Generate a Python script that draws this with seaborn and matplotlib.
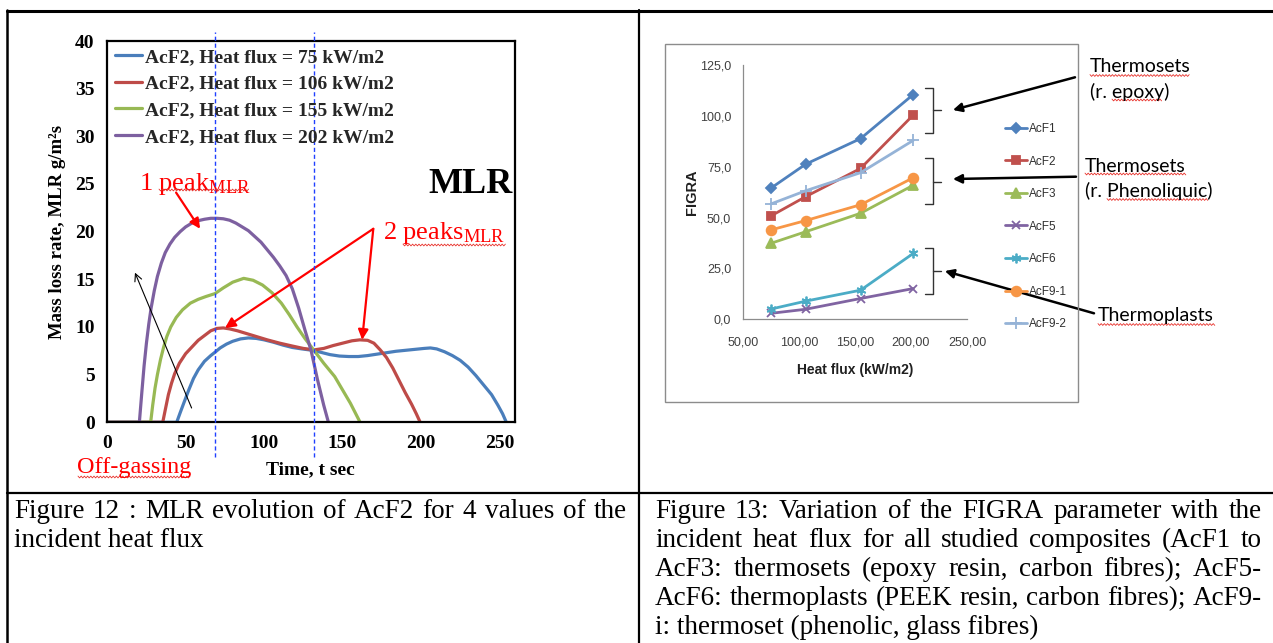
import numpy as np
import pandas as pd
import matplotlib
matplotlib.use("Agg")
import matplotlib.pyplot as plt
import seaborn as sns
from matplotlib.lines import Line2D
from matplotlib.patches import Rectangle

# ---------------- Figure 12 data: MLR of AcF2 (g/m2 s) vs time (s) ----------------
mlr_labels = ["AcF2, Heat flux = 75 kW/m2", "AcF2, Heat flux = 106 kW/m2",
              "AcF2, Heat flux = 155 kW/m2", "AcF2, Heat flux = 202 kW/m2"]
mlr_colors = ["#4a7ebb", "#be4b48", "#98b954", "#7d60a0"]

t_75 = [0, 44.3, 46.5, 49, 52, 55, 58, 62, 66, 68.7, 72, 76, 80, 85, 90, 95, 100, 106, 112,
        118, 124, 131, 136, 142, 148, 154, 160, 166, 172, 178, 184, 190, 196, 202, 206, 210,
        215, 220, 225, 230, 235, 240, 245, 249, 252, 254.4]
mlr_75 = [0, 0, 1.0, 2.1, 3.4, 4.6, 5.5, 6.4, 7.0, 7.35, 7.8, 8.2, 8.5, 8.75, 8.85, 8.8, 8.65,
          8.4, 8.1, 7.85, 7.7, 7.55, 7.35, 7.1, 6.95, 6.9, 6.9, 7.0, 7.15, 7.3, 7.45, 7.55, 7.65,
          7.75, 7.8, 7.7, 7.4, 7.0, 6.5, 5.8, 4.9, 3.9, 2.9, 1.8, 0.9, 0]

t_106 = [0, 35.4, 37, 39, 41, 43, 46, 50, 54, 58, 62, 66, 70, 74, 78, 83, 88, 95, 102, 110,
         118, 125, 132, 138, 144, 150, 156, 161, 166, 170, 174, 178, 182, 186, 190, 194, 197,
         199.5]
mlr_106 = [0, 0, 1.3, 2.9, 4.1, 5.1, 6.2, 7.2, 7.9, 8.6, 9.1, 9.6, 9.85, 9.9, 9.8, 9.6, 9.35,
           9.0, 8.65, 8.3, 8.0, 7.75, 7.6, 7.75, 8.05, 8.3, 8.55, 8.65, 8.6, 8.3, 7.6, 6.8, 5.7,
           4.4, 3.1, 1.9, 0.9, 0]

t_155 = [0, 27.7, 29, 30.5, 32, 34, 36, 38, 40.5, 44, 48, 53, 58, 63, 68.7, 74, 80, 87, 93,
         99, 105, 111, 116, 121, 126, 132, 138, 145, 150, 155, 161.2]
mlr_155 = [0, 0, 1.8, 3.6, 5.0, 6.6, 7.9, 9.0, 10.0, 11.0, 11.8, 12.5, 12.9, 13.2, 13.5, 14.1,
           14.7, 15.1, 14.9, 14.4, 13.6, 12.5, 11.3, 10.0, 8.8, 7.5, 6.2, 4.8, 3.4, 2.0, 0]

t_202 = [0, 20.5, 22, 23.5, 25, 26.5, 28, 30, 32, 34.5, 37, 40, 43, 46.5, 50, 54, 58, 62, 66,
         70, 74, 78, 82, 86, 90, 94, 98, 102, 106, 110, 114, 118, 122, 126, 130, 134, 138, 141]
mlr_202 = [0, 0, 3.0, 5.9, 8.3, 10.3, 12.0, 13.8, 15.3, 16.7, 17.8, 18.7, 19.4, 20.0, 20.5,
           20.9, 21.15, 21.3, 21.4, 21.4, 21.35, 21.2, 20.9, 20.5, 20.1, 19.5, 18.9, 18.1, 17.3,
           16.4, 15.4, 14.0, 12.0, 9.7, 7.5, 4.5, 1.8, 0]

marker_times = [68.7, 132.1]          # dashed vertical guide lines (s)

# ---------------- Figure 13 data: FIGRA vs heat flux ----------------
heat_flux = [75, 106, 155, 202]
figra_labels = ["AcF1", "AcF2", "AcF3", "AcF5", "AcF6", "AcF9-1", "AcF9-2"]
figra_acf1 = [64.5, 76.3, 88.9, 110.6]
figra_acf2 = [50.8, 60.3, 74.2, 100.5]
figra_acf3 = [37.3, 43.0, 52.1, 65.9]
figra_acf5 = [2.8, 4.8, 10.1, 15.0]
figra_acf6 = [4.9, 8.8, 14.2, 32.3]
figra_acf91 = [43.9, 48.5, 56.3, 69.6]
figra_acf92 = [56.7, 63.2, 72.1, 88.0]
figra_colors = ["#4f81bd", "#c0504d", "#9bbb59", "#8064a2", "#4bacc6", "#f79646", "#95b3d7"]
figra_markers = ["D", "s", "^", "x", (6, 2, 0), "o", "+"]
figra_msize = [5.5, 6, 6.5, 6, 7, 7, 8]

caption_left = ["Figure 12 : MLR evolution of AcF2 for 4 values of the", "incident heat flux"]
caption_right = ["Figure 13: Variation of the FIGRA parameter with the",
                 "incident heat flux for all studied composites (AcF1 to",
                 "AcF3: thermosets (epoxy resin, carbon fibres); AcF5-",
                 "AcF6: thermoplasts (PEEK resin, carbon fibres); AcF9-",
                 "i: thermoset (phenolic, glass fibres)"]

# ---------------- styling ----------------
sns.set_theme(style="white")
plt.rcParams["font.family"] = ["Liberation Serif", "DejaVu Serif"]
plt.rcParams["mathtext.fontset"] = "custom"
plt.rcParams["mathtext.rm"] = "Liberation Serif"
plt.rcParams["mathtext.it"] = "Liberation Serif:italic"
plt.rcParams["mathtext.bf"] = "Liberation Serif:bold"

SERIF = ["Liberation Serif", "DejaVu Serif"]
SANS = ["Liberation Sans", "DejaVu Sans"]
CAL = ["Lato", "Liberation Sans", "DejaVu Sans"]

W, H = 1273, 643
fig = plt.figure(figsize=(W / 100, H / 100), dpi=100)
fig.patch.set_facecolor("white")


def fx(x):
    return np.asarray(x, dtype=float) / W


def fy(y):
    return 1 - np.asarray(y, dtype=float) / H


def box(x0, y0, x1, y1):
    return [float(fx(x0)), float(fy(y1)), float(fx(x1) - fx(x0)), float(fy(y0) - fy(y1))]


def fline(xs, ys, **kw):
    fig.add_artist(Line2D(fx(xs), fy(ys), transform=fig.transFigure, **kw))


def wavy(x0, x1, y, color="#e8302a"):
    xs = np.arange(x0, x1, 1.6)
    ys = y + np.where(np.arange(len(xs)) % 2 == 0, -0.9, 0.9)
    fline(xs, ys, color=color, lw=0.6)


# ---------------- table grid ----------------
fline([7, W], [11, 11], color="black", lw=2.2)
fline([7, 7], [10, H], color="black", lw=1.8)
fline([639, 639], [10, H], color="black", lw=1.6)
fline([7, W], [493, 493], color="black", lw=1.6)

# ---------------- left chart (MLR) ----------------
ax1 = fig.add_axes(box(107.2, 41, 514.5, 422.3))
mlr_df = pd.concat([
    pd.DataFrame({"t": t, "mlr": v, "series": lab})
    for t, v, lab in zip([t_75, t_106, t_155, t_202], [mlr_75, mlr_106, mlr_155, mlr_202], mlr_labels)
])
for lab, col in zip(mlr_labels, mlr_colors):
    sns.lineplot(data=mlr_df[mlr_df["series"] == lab], x="t", y="mlr", color=col, lw=2.3,
                 label=lab, estimator=None, sort=False, ax=ax1)

ax1.set_xlim(0, 259.6)
ax1.set_ylim(0, 40)
ax1.set_xticks([0, 50, 100, 150, 200, 250])
ax1.set_yticks(list(range(0, 41, 5)))
ax1.tick_params(axis="both", direction="in", length=4, width=1, color="black",
                labelsize=14, labelcolor="black")
ax1.tick_params(axis="x", pad=9)
ax1.tick_params(axis="y", pad=9)
for lbl in ax1.get_xticklabels() + ax1.get_yticklabels():
    lbl.set_fontweight("bold")
    lbl.set_family(SERIF)
for sp in ax1.spines.values():
    sp.set_visible(True)
    sp.set_color("black")
    sp.set_linewidth(1.6)

ax1.set_ylabel("Mass loss rate, MLR g/m²s", fontsize=13.5, fontweight="bold", family=SERIF,
               color="black", va="center")
ax1.yaxis.set_label_coords((57 - 107.2) / 407.3, 0.5)
ax1.set_xlabel("Time, t sec", fontsize=14, fontweight="bold", family=SERIF, color="black", va="center")
ax1.xaxis.set_label_coords(0.5, (422.3 - 470) / 381.3)

ax1.legend(loc="upper left", bbox_to_anchor=(float(fx(115)), float(fy(48.5))),
           bbox_transform=fig.transFigure, frameon=False,
           prop=dict(family=SERIF, weight="bold", size=14),
           handlelength=1.4, handletextpad=0.12, labelspacing=0.46,
           borderpad=0, borderaxespad=0)

for tm in marker_times:
    ax1.axvline(tm, ymin=-0.091, ymax=1.024, color="#2040ff", lw=1.0, ls=(0, (3, 2)),
                clip_on=False, zorder=5)

# annotations
ax1.text(float((139 - 107.2) / 1.5688), 24.4, r"1 peak$_{\mathrm{MLR}}$", color="red",
         fontsize=19, family=SERIF, va="baseline", ha="left")
ax1.text(float((383 - 107.2) / 1.5688), 19.2, r"2 peaks$_{\mathrm{MLR}}$", color="red",
         fontsize=19, family=SERIF, va="baseline", ha="left")
ax1.text(float((428 - 107.2) / 1.5688), 24.1, "MLR", color="black", fontsize=26,
         fontweight="bold", family=SERIF, va="baseline", ha="left", clip_on=False)
red_arrow = dict(arrowstyle="-|>", color="red", lw=1.6, mutation_scale=15, shrinkA=0, shrinkB=0)
ax1.annotate("", xy=(59.2, 20.3), xytext=(43.9, 24.1), arrowprops=red_arrow)
ax1.annotate("", xy=(75.1, 9.9), xytext=(169.6, 20.3), arrowprops=red_arrow)
ax1.annotate("", xy=(162.5, 8.65), xytext=(169.6, 20.3), arrowprops=red_arrow)
ax1.annotate("", xy=(17.7, 15.7), xytext=(53.8, 1.5),
             arrowprops=dict(arrowstyle="->", color="black", lw=0.8, mutation_scale=13,
                             shrinkA=0, shrinkB=0))
fig.text(float(fx(77)), float(fy(467)), "Off-gassing", color="red", fontsize=17.5, family=SERIF,
         va="center", ha="left")
wavy(159, 250, 190)
wavy(403, 507, 245)
wavy(78, 191, 477)

# ---------------- right chart (FIGRA) ----------------
fig.add_artist(Rectangle((float(fx(665)), float(fy(402))), float(fx(1078) - fx(665)),
                         float(fy(44) - fy(402)), transform=fig.transFigure, fill=False,
                         ec="#8c8c8c", lw=1.0))
ax2 = fig.add_axes(box(743, 65.3, 967, 319))
figra_vals = [figra_acf1, figra_acf2, figra_acf3, figra_acf5, figra_acf6, figra_acf91, figra_acf92]
for lab, vals, col, mk, ms in zip(figra_labels, figra_vals, figra_colors, figra_markers, figra_msize):
    sns.lineplot(x=heat_flux, y=vals, color=col, lw=2.0, marker=mk, markersize=ms,
                 markeredgecolor=col, markerfacecolor=col, markeredgewidth=1.3,
                 label=lab, ax=ax2)

ax2.set_xlim(50, 250)
ax2.set_ylim(0, 125)
xt = [50, 100, 150, 200, 250]
yt = [0, 25, 50, 75, 100, 125]
ax2.set_xticks(xt)
ax2.set_yticks(yt)
ax2.set_xticklabels([f"{v:.2f}".replace(".", ",") for v in xt])
ax2.set_yticklabels([f"{v:.1f}".replace(".", ",") for v in yt])
ax2.tick_params(axis="both", direction="out", length=3, width=0.8, color="#8c8c8c",
                labelsize=9, labelcolor="#404040")
ax2.tick_params(axis="x", pad=9.5)
ax2.tick_params(axis="y", pad=5.5)
for lbl in ax2.get_xticklabels() + ax2.get_yticklabels():
    lbl.set_family(SANS)
for side in ["top", "right"]:
    ax2.spines[side].set_visible(False)
for side in ["left", "bottom"]:
    ax2.spines[side].set_color("#8c8c8c")
    ax2.spines[side].set_linewidth(0.9)
ax2.set_ylabel("FIGRA", fontsize=10.5, fontweight="bold", family=SANS, color="#202020", va="center")
ax2.yaxis.set_label_coords((691.7 - 743) / 224, 0.5)
ax2.set_xlabel("Heat flux (kW/m2)", fontsize=10, fontweight="bold", family=SANS,
               color="#202020", va="center")
ax2.xaxis.set_label_coords(0.5, (319 - 370) / 253.7)

ax2.legend(loc="upper left", bbox_to_anchor=(float(fx(1005)), float(fy(123))),
           bbox_transform=fig.transFigure, frameon=False,
           prop=dict(family=SANS, size=8.5), labelcolor="#303030",
           handlelength=1.9, handletextpad=0.17, labelspacing=1.74,
           borderpad=0, borderaxespad=0)

# brackets
for yt_, ym_, yb_ in [(87.7, 110, 133.3), (158.3, 181.7, 204), (247.7, 270.7, 294)]:
    fline([925, 933, 933, 925], [yt_, yt_, yb_, yb_], color="#333333", lw=1.0)
    fline([933, 941], [ym_, ym_], color="#333333", lw=1.0)

# arrows to brackets
for (x0, y0), (x1, y1) in [((1075, 77.3), (952.9, 110)), ((1076, 176.7), (952.9, 179)),
                           ((1094, 313.3), (944.8, 271))]:
    ax2.annotate("", xy=(x1, H - y1), xytext=(x0, H - y0), xycoords="figure pixels",
                 textcoords="figure pixels", annotation_clip=False,
                 arrowprops=dict(arrowstyle="-|>", color="black", lw=1.8, mutation_scale=13,
                                 shrinkA=0, shrinkB=0))

for txt, x, y in [("Thermosets", 1090, 66.7), ("(r. epoxy)", 1090, 91.7),
                  ("Thermosets", 1085, 166.7), ("(r. Phenoliquic)", 1085, 190.7),
                  ("Thermoplasts", 1098, 316)]:
    fig.text(float(fx(x)), float(fy(y)), txt, fontsize=14, family=CAL, color="black",
             va="center", ha="left")
wavy(1090, 1190, 75.5)
wavy(1112, 1162, 100)
wavy(1085, 1186, 174)
wavy(1107, 1208, 199.5)
wavy(1098, 1216, 324.5)

# ---------------- captions (justified) ----------------
renderer = fig.canvas.get_renderer()


def caption(lines, x0, x1, base0, step=29.0, size=19.5):
    for i, line in enumerate(lines):
        base = base0 + i * step
        last = i == len(lines) - 1
        if last:
            fig.text(float(fx(x0)), float(fy(base)), line, fontsize=size, family=SERIF,
                     va="baseline", ha="left", color="black")
            continue
        words = line.split(" ")
        objs = [fig.text(0, float(fy(base)), w, fontsize=size, family=SERIF, va="baseline",
                         ha="left", color="black") for w in words]
        widths = [o.get_window_extent(renderer).width for o in objs]
        gap = (x1 - x0 - sum(widths)) / (len(words) - 1)
        xpos = x0
        for o, w in zip(objs, widths):
            o.set_x(float(fx(xpos)))
            xpos += w + gap


caption(caption_left, 14, 627, 518)
caption(caption_right, 655, 1262, 518)

fig.savefig("out.png", dpi=100, facecolor="white")
